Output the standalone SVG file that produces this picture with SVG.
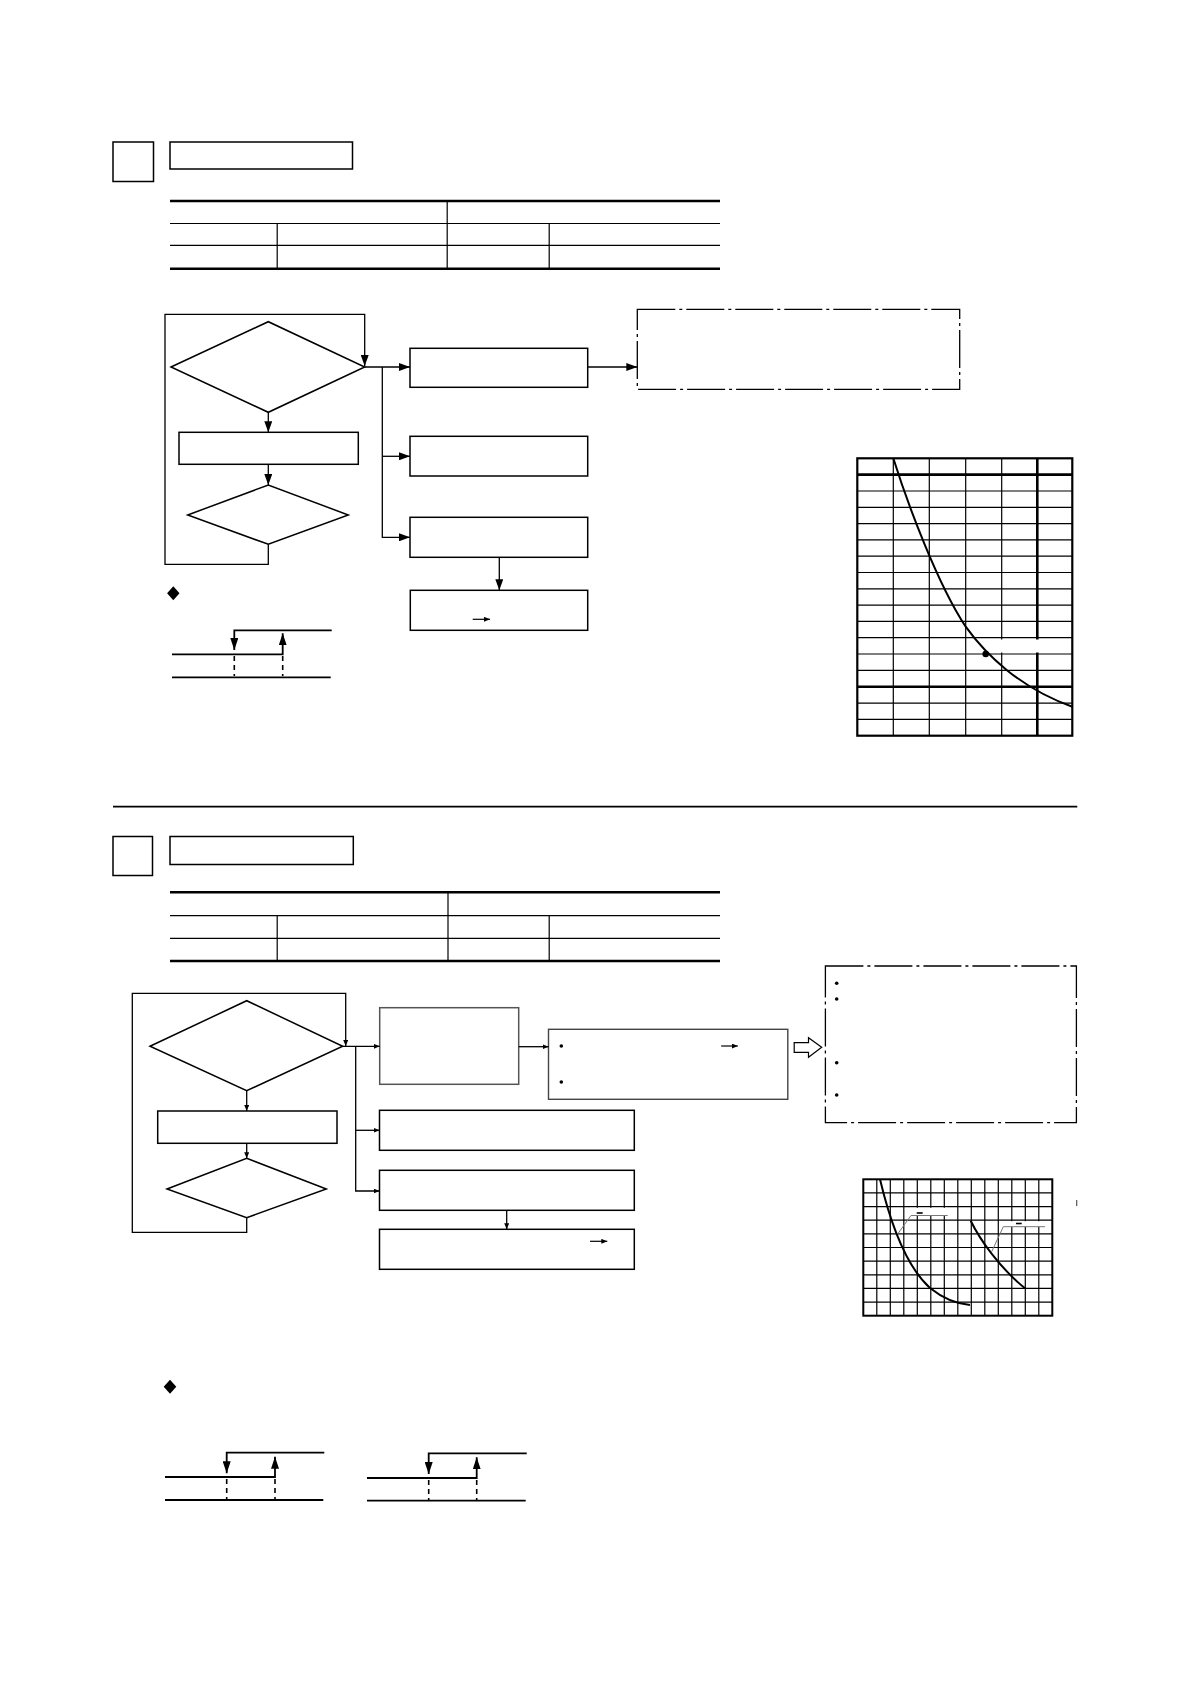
<svg xmlns="http://www.w3.org/2000/svg" width="1190" height="1684" viewBox="0 0 1190 1684">
<defs>
<style>
.bx{fill:#fff;stroke:#000;stroke-width:1.5}
.ln{fill:none;stroke:#000;stroke-width:1.3}
.thick{fill:none;stroke:#000;stroke-width:2.6}
.thin{fill:none;stroke:#000;stroke-width:1.2}
.dd{fill:none;stroke:#000;stroke-width:1.3;stroke-dasharray:38 4 3 4}
.hy{fill:none;stroke:#000;stroke-width:1.8}
.dsh{fill:none;stroke:#000;stroke-width:1.6;stroke-dasharray:5 4}
.grid{fill:none;stroke:#000;stroke-width:1.2}
.curve{fill:none;stroke:#000;stroke-width:2}
.lead{fill:none;stroke:#777;stroke-width:1}
</style>
<marker id="ab" markerUnits="userSpaceOnUse" markerWidth="12" markerHeight="8" refX="11" refY="4" orient="auto"><path d="M0,0 L11,4 L0,8 z" fill="#000"/></marker>
<marker id="as" markerUnits="userSpaceOnUse" markerWidth="6" markerHeight="5" refX="6" refY="2.5" orient="auto"><path d="M0,0 L6,2.5 L0,5 z" fill="#000"/></marker>
<marker id="ah" markerUnits="userSpaceOnUse" markerWidth="13" markerHeight="8" refX="12" refY="4" orient="auto"><path d="M0,0 L12,4 L0,8 z" fill="#000"/></marker>
</defs>
<rect width="1190" height="1684" fill="#fff"/>

<!-- Section 1 header -->
<g id="s1-square"><rect class="bx" x="113" y="142" width="40.5" height="39.5"/></g>
<g id="s1-title"><rect class="bx" x="170" y="142" width="182.5" height="27"/></g>
<g id="s1-table">
<line class="thick" x1="170" y1="201" x2="720" y2="201"/>
<line class="thin" x1="170" y1="223.5" x2="720" y2="223.5"/>
<line class="thin" x1="170" y1="245.3" x2="720" y2="245.3"/>
<line class="thick" x1="170" y1="268.8" x2="720" y2="268.8"/>
<line class="thin" x1="447.2" y1="201" x2="447.2" y2="268.8"/>
<line class="thin" x1="277.2" y1="223.5" x2="277.2" y2="268.8"/>
<line class="thin" x1="549.2" y1="223.5" x2="549.2" y2="268.8"/>
</g>

<!-- Section 1 flowchart nodes -->
<g id="s1-d1"><polygon class="bx" points="171,367 268.3,321.7 364.7,367 268.3,412.3"/></g>
<g id="s1-r1"><rect class="bx" x="179" y="432.3" width="179.3" height="32"/></g>
<g id="s1-d2"><polygon class="bx" points="187.7,515 268.3,485 348.3,515 268.3,544.3"/></g>
<g id="s1-A"><rect class="bx" x="410" y="348.3" width="177.7" height="39"/></g>
<g id="s1-B"><rect class="bx" x="410" y="436.3" width="177.7" height="39.7"/></g>
<g id="s1-C"><rect class="bx" x="410" y="517.3" width="177.7" height="40"/></g>
<g id="s1-D"><rect class="bx" x="410.3" y="590.3" width="177.4" height="40"/><line class="thin" x1="472.7" y1="619.3" x2="490" y2="619.3" marker-end="url(#as)"/></g>
<g id="s1-note"><rect class="dd" x="637.3" y="309.3" width="322.4" height="80"/></g>

<g id="s1-connectors">
<polyline class="ln" points="268.3,544.3 268.3,564.3 165,564.3 165,314.3 364.7,314.3 364.7,366" marker-end="url(#ab)"/>
<line class="ln" x1="268.3" y1="412.3" x2="268.3" y2="432.3" marker-end="url(#ab)"/>
<line class="ln" x1="268.3" y1="464.3" x2="268.3" y2="485" marker-end="url(#ab)"/>
<line class="ln" x1="364.7" y1="367" x2="410" y2="367" marker-end="url(#ab)"/>
<polyline class="ln" points="382.3,367 382.3,537.3 410,537.3" marker-end="url(#ab)"/>
<line class="ln" x1="382.3" y1="456.3" x2="410" y2="456.3" marker-end="url(#ab)"/>
<line class="ln" x1="499.3" y1="557.3" x2="499.3" y2="590.3" marker-end="url(#ab)"/>
<line class="ln" x1="587.7" y1="367" x2="637.3" y2="367" marker-end="url(#ab)"/>
</g>

<!-- Section 1 hysteresis -->
<g id="s1-bullet"><polygon points="173.3,586.3 179.5,593.3 173.3,600.3 167.1,593.3" fill="#000"/></g>
<g id="s1-hyst">
<polyline class="hy" points="331.7,630.3 234.3,630.3 234.3,650" marker-end="url(#ah)"/>
<polyline class="hy" points="172,654.3 282.7,654.3 282.7,633.3" marker-end="url(#ah)"/>
<line class="dsh" x1="234.3" y1="656" x2="234.3" y2="676"/>
<line class="dsh" x1="282.7" y1="656" x2="282.7" y2="676"/>
<line class="hy" x1="172" y1="677.3" x2="330.7" y2="677.3"/>
</g>

<!-- Section 1 chart -->
<g id="s1-chart">
<rect x="857.3" y="458.3" width="215" height="277.4" fill="#fff" stroke="none"/>
<g class="grid">
<line x1="893.3" y1="458.3" x2="893.3" y2="735.7"/>
<line x1="929.3" y1="458.3" x2="929.3" y2="735.7"/>
<line x1="965.7" y1="458.3" x2="965.7" y2="735.7"/>
<line x1="1001.7" y1="458.3" x2="1001.7" y2="735.7"/>
<line x1="857.3" y1="491.0" x2="1072.3" y2="491.0"/>
<line x1="857.3" y1="507.3" x2="1072.3" y2="507.3"/>
<line x1="857.3" y1="523.6" x2="1072.3" y2="523.6"/>
<line x1="857.3" y1="539.9" x2="1072.3" y2="539.9"/>
<line x1="857.3" y1="556.2" x2="1072.3" y2="556.2"/>
<line x1="857.3" y1="572.5" x2="1072.3" y2="572.5"/>
<line x1="857.3" y1="588.8" x2="1072.3" y2="588.8"/>
<line x1="857.3" y1="605.1" x2="1072.3" y2="605.1"/>
<line x1="857.3" y1="621.4" x2="1072.3" y2="621.4"/>
<line x1="857.3" y1="637.7" x2="1072.3" y2="637.7"/>
<line x1="857.3" y1="654.0" x2="1072.3" y2="654.0"/>
<line x1="857.3" y1="670.3" x2="1072.3" y2="670.3"/>
<line x1="857.3" y1="703.1" x2="1072.3" y2="703.1"/>
<line x1="857.3" y1="719.4" x2="1072.3" y2="719.4"/>
</g>
<line class="thick" x1="1037.3" y1="458.3" x2="1037.3" y2="735.7" stroke-width="2.2"/>
<line class="thick" x1="857.3" y1="474.6" x2="1072.3" y2="474.6" stroke-width="2.2"/>
<line class="thick" x1="857.3" y1="686.8" x2="1072.3" y2="686.8" stroke-width="2.2"/>
<rect x="1000" y="639.5" width="39.5" height="13" fill="#fff"/>
<rect x="857.3" y="458.3" width="215" height="277.4" fill="none" stroke="#000" stroke-width="2.2"/>
<path class="curve" d="M893.3,458.3 C908,505 938,585 965.7,626.7 C985.7,654.7 1020,688 1072.3,706.7"/>
<circle cx="985.7" cy="654" r="3.3" fill="#000"/>
</g>

<!-- divider -->
<line x1="113" y1="806.6" x2="1077.3" y2="806.6" stroke="#000" stroke-width="1.6"/>

<!-- Section 2 header -->
<g id="s2-square"><rect class="bx" x="113" y="836.5" width="39.5" height="39"/></g>
<g id="s2-title"><rect class="bx" x="170" y="836.5" width="183.3" height="28"/></g>
<g id="s2-table">
<line class="thick" x1="170" y1="892.3" x2="720" y2="892.3"/>
<line class="thin" x1="170" y1="915.7" x2="720" y2="915.7"/>
<line class="thin" x1="170" y1="938.3" x2="720" y2="938.3"/>
<line class="thick" x1="170" y1="961" x2="720" y2="961"/>
<line class="thin" x1="448" y1="892.3" x2="448" y2="961"/>
<line class="thin" x1="277.2" y1="915.7" x2="277.2" y2="961"/>
<line class="thin" x1="549.2" y1="915.7" x2="549.2" y2="961"/>
</g>

<!-- Section 2 flowchart nodes -->
<g id="s2-d1"><polygon class="bx" points="150,1046.3 246.7,1000.7 342.7,1046.3 246.7,1090.7"/></g>
<g id="s2-r1"><rect class="bx" x="157.7" y="1111" width="179.3" height="32.3"/></g>
<g id="s2-d2"><polygon class="bx" points="167,1189 246.7,1158.3 326.3,1189 246.7,1217.7"/></g>
<g id="s2-E"><rect x="379.7" y="1007.7" width="139" height="76.6" fill="#fff" stroke="#555" stroke-width="1.5"/></g>
<g id="s2-F"><rect class="bx" x="379.5" y="1110.3" width="254.8" height="40"/></g>
<g id="s2-G"><rect class="bx" x="379.5" y="1170.3" width="254.8" height="40"/></g>
<g id="s2-H"><rect class="bx" x="379.5" y="1229.3" width="254.8" height="40"/><line class="thin" x1="590" y1="1241.3" x2="607.3" y2="1241.3" marker-end="url(#as)"/></g>
<g id="s2-I"><rect x="548.5" y="1029.3" width="239.3" height="70" fill="#fff" stroke="#444" stroke-width="1.4"/>
<circle cx="561.3" cy="1046" r="1.8" fill="#000"/><circle cx="561.3" cy="1082" r="1.8" fill="#000"/>
<line class="thin" x1="721.2" y1="1046" x2="737.8" y2="1046" marker-end="url(#as)"/></g>
<g id="s2-hollow"><polygon points="794.2,1042.7 808.5,1042.7 808.5,1037.7 821.7,1047.3 808.5,1057.3 808.5,1052.3 794.2,1052.3" fill="#fff" stroke="#000" stroke-width="1.2"/></g>
<g id="s2-note"><rect class="dd" x="825.4" y="966" width="251" height="156.7"/>
<circle cx="836.7" cy="983.3" r="1.8" fill="#000"/><circle cx="836.7" cy="999" r="1.8" fill="#000"/>
<circle cx="836.7" cy="1062.7" r="1.8" fill="#000"/><circle cx="836.7" cy="1095" r="1.8" fill="#000"/></g>

<g id="s2-connectors">
<polyline class="ln" points="246.7,1217.7 246.7,1232.3 132.3,1232.3 132.3,993.3 345.7,993.3 345.7,1046" marker-end="url(#as)"/>
<line class="ln" x1="246.7" y1="1090.7" x2="246.7" y2="1111" marker-end="url(#as)"/>
<line class="ln" x1="246.7" y1="1143.3" x2="246.7" y2="1158.3" marker-end="url(#as)"/>
<line class="ln" x1="342.7" y1="1046.3" x2="379.7" y2="1046.3" marker-end="url(#as)"/>
<polyline class="ln" points="355.7,1046.3 355.7,1191 379.5,1191" marker-end="url(#as)"/>
<line class="ln" x1="355.7" y1="1130.3" x2="379.5" y2="1130.3" marker-end="url(#as)"/>
<line class="ln" x1="506.7" y1="1210.3" x2="506.7" y2="1229.3" marker-end="url(#as)"/>
<line class="ln" x1="518.7" y1="1046.7" x2="548.5" y2="1046.7" marker-end="url(#as)"/>
</g>

<!-- Section 2 chart -->
<g id="s2-chart">
<g class="grid">
<line x1="876.8" y1="1179.3" x2="876.8" y2="1315.7"/>
<line x1="890.3" y1="1179.3" x2="890.3" y2="1315.7"/>
<line x1="903.8" y1="1179.3" x2="903.8" y2="1315.7"/>
<line x1="917.3" y1="1179.3" x2="917.3" y2="1315.7"/>
<line x1="930.8" y1="1179.3" x2="930.8" y2="1315.7"/>
<line x1="944.3" y1="1179.3" x2="944.3" y2="1315.7"/>
<line x1="957.8" y1="1179.3" x2="957.8" y2="1315.7"/>
<line x1="971.3" y1="1179.3" x2="971.3" y2="1315.7"/>
<line x1="984.8" y1="1179.3" x2="984.8" y2="1315.7"/>
<line x1="998.3" y1="1179.3" x2="998.3" y2="1315.7"/>
<line x1="1011.8" y1="1179.3" x2="1011.8" y2="1315.7"/>
<line x1="1025.3" y1="1179.3" x2="1025.3" y2="1315.7"/>
<line x1="1038.8" y1="1179.3" x2="1038.8" y2="1315.7"/>
<line x1="863.3" y1="1192.9" x2="1052.3" y2="1192.9"/>
<line x1="863.3" y1="1206.6" x2="1052.3" y2="1206.6"/>
<line x1="863.3" y1="1220.2" x2="1052.3" y2="1220.2"/>
<line x1="863.3" y1="1233.9" x2="1052.3" y2="1233.9"/>
<line x1="863.3" y1="1247.5" x2="1052.3" y2="1247.5"/>
<line x1="863.3" y1="1261.1" x2="1052.3" y2="1261.1"/>
<line x1="863.3" y1="1274.8" x2="1052.3" y2="1274.8"/>
<line x1="863.3" y1="1288.4" x2="1052.3" y2="1288.4"/>
<line x1="863.3" y1="1302.1" x2="1052.3" y2="1302.1"/>
</g>
<rect x="863.3" y="1179.3" width="189" height="136.4" fill="none" stroke="#000" stroke-width="2"/>
<rect x="910" y="1207.8" width="38" height="7.5" fill="#fff"/>
<rect x="1003.5" y="1221.2" width="41.5" height="5.5" fill="#fff"/>
<path class="curve" d="M880,1179.3 C892,1230 908,1268 930,1288 C945,1300 958,1304 970,1305"/>
<path class="curve" d="M970.7,1220.7 C980,1240 1000,1268 1025,1288.3"/>
<polyline class="lead" points="897.7,1234 911,1215.5 947.7,1215.5"/>
<polyline class="lead" points="991.7,1251.7 1003.3,1226.7 1045,1226.7"/>
<line x1="916.7" y1="1213" x2="922.7" y2="1213" stroke="#000" stroke-width="1.6"/>
<line x1="1016" y1="1223.5" x2="1021.7" y2="1223.5" stroke="#000" stroke-width="1.6"/>
</g>
<line x1="1076.7" y1="1200" x2="1076.7" y2="1206" stroke="#555" stroke-width="1.2"/>

<!-- Section 2 hysteresis -->
<g id="s2-bullet"><polygon points="170,1379.7 176.3,1386.7 170,1393.7 163.7,1386.7" fill="#000"/></g>
<g id="s2-hyst1">
<polyline class="hy" points="324.3,1452.7 226.7,1452.7 226.7,1473.3" marker-end="url(#ah)"/>
<polyline class="hy" points="165,1477 275,1477 275,1456.7" marker-end="url(#ah)"/>
<line class="dsh" x1="226.7" y1="1479" x2="226.7" y2="1499"/>
<line class="dsh" x1="275" y1="1479" x2="275" y2="1499"/>
<line class="hy" x1="165" y1="1500" x2="323.3" y2="1500"/>
</g>
<g id="s2-hyst2">
<polyline class="hy" points="526.7,1453.3 428.7,1453.3 428.7,1474" marker-end="url(#ah)"/>
<polyline class="hy" points="367,1478 476.7,1478 476.7,1457.3" marker-end="url(#ah)"/>
<line class="dsh" x1="428.7" y1="1480" x2="428.7" y2="1500"/>
<line class="dsh" x1="476.7" y1="1480" x2="476.7" y2="1500"/>
<line class="hy" x1="367" y1="1500.7" x2="525.7" y2="1500.7"/>
</g>
</svg>
